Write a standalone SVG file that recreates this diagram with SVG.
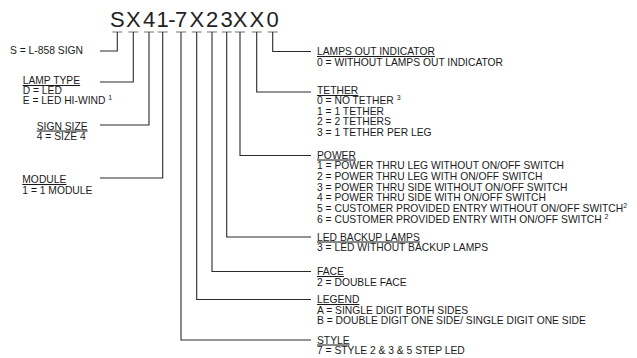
<svg xmlns="http://www.w3.org/2000/svg" width="637" height="358" viewBox="0 0 637 358">
<style>
text{font-family:"Liberation Sans",Arial,sans-serif;fill:#1a1a1a}
.t{font-size:10.3px}
.h{text-decoration:underline}
.sup{font-size:7px}
.title{font-size:22px;fill:#222}
.c{fill:none;stroke:#2a2a2a;stroke-width:1.1}
.d{stroke:#888;stroke-width:1.2}
</style>
<rect width="637" height="358" fill="#fff"/>
<g id="title">
<text class="title" y="27" x="110 126 142.9 156.6 168.3 174.9 189.4 205.9 220.6 232.7 249.4 266.6">SX41-7X23XX0</text>
<g class="d">
<line x1="112.3" y1="32" x2="122.3" y2="32"/>
<line x1="128.3" y1="32" x2="138.3" y2="32"/>
<line x1="144" y1="32" x2="154" y2="32"/>
<line x1="157.7" y1="32" x2="167.7" y2="32"/>
<line x1="176" y1="32" x2="186" y2="32"/>
<line x1="191.7" y1="32" x2="201.7" y2="32"/>
<line x1="207" y1="32" x2="217" y2="32"/>
<line x1="221.7" y1="32" x2="231.7" y2="32"/>
<line x1="235" y1="32" x2="245" y2="32"/>
<line x1="251.7" y1="32" x2="261.7" y2="32"/>
<line x1="267.7" y1="32" x2="277.7" y2="32"/>
</g>
</g>
<g id="connectors">
<path class="c" d="M117.3,32 V51 H100"/>
<path class="c" d="M133.3,32 V82 H100"/>
<path class="c" d="M149,32 V125 H100"/>
<path class="c" d="M162.7,32 V178 H100"/>
<path class="c" d="M272.7,32 V51.5 H311"/>
<path class="c" d="M256.7,32 V92 H311"/>
<path class="c" d="M240,32 V155.5 H311"/>
<path class="c" d="M226.7,32 V237 H311"/>
<path class="c" d="M212,32 V271.5 H311"/>
<path class="c" d="M196.7,32 V299.5 H311"/>
<path class="c" d="M181,32 V340 H311"/>
</g>
<g id="sign">
<text class="t" x="10" y="54">S = L-858 SIGN</text>
</g>
<g id="lamp-type">
<text class="t h" x="22.7" y="84">LAMP TYPE</text>
<text class="t" x="22.7" y="94">D = LED</text>
<text class="t" x="22.7" y="104">E = LED HI-WIND <tspan class="sup" dy="-4">1</tspan></text>
</g>
<g id="sign-size">
<text class="t h" x="36.7" y="129.5">SIGN SIZE</text>
<text class="t" x="36.7" y="139.5">4 = SIZE 4</text>
</g>
<g id="module">
<text class="t h" x="22.3" y="183">MODULE</text>
<text class="t" x="22.3" y="193.5">1 = 1 MODULE</text>
</g>
<g id="lamps-out">
<text class="t h" x="317" y="55">LAMPS OUT INDICATOR</text>
<text class="t" x="317" y="65.5">0 = WITHOUT LAMPS OUT INDICATOR</text>
</g>
<g id="tether">
<text class="t h" x="317" y="94">TETHER</text>
<text class="t" x="317" y="104">0 = NO TETHER <tspan class="sup" dy="-4">3</tspan></text>
<text class="t" x="317" y="114.5">1 = 1 TETHER</text>
<text class="t" x="317" y="125">2 = 2 TETHERS</text>
<text class="t" x="317" y="135.5">3 = 1 TETHER PER LEG</text>
</g>
<g id="power">
<text class="t h" x="317" y="158.5">POWER</text>
<text class="t" x="317" y="169">1 = POWER THRU LEG WITHOUT ON/OFF SWITCH</text>
<text class="t" x="317" y="179.8">2 = POWER THRU LEG WITH ON/OFF SWITCH</text>
<text class="t" x="317" y="190.6">3 = POWER THRU SIDE WITHOUT ON/OFF SWITCH</text>
<text class="t" x="317" y="201.4">4 = POWER THRU SIDE WITH ON/OFF SWITCH</text>
<text class="t" x="317" y="212.2">5 = CUSTOMER PROVIDED ENTRY WITHOUT ON/OFF SWITCH<tspan class="sup" dy="-4">2</tspan></text>
<text class="t" x="317" y="223">6 = CUSTOMER PROVIDED ENTRY WITH ON/OFF SWITCH <tspan class="sup" dy="-4">2</tspan></text>
</g>
<g id="led-backup">
<text class="t h" x="317" y="240.5">LED BACKUP LAMPS</text>
<text class="t" x="317" y="251">3 = LED WITHOUT BACKUP LAMPS</text>
</g>
<g id="face">
<text class="t h" x="317" y="275">FACE</text>
<text class="t" x="317" y="285.5">2 = DOUBLE FACE</text>
</g>
<g id="legend">
<text class="t h" x="317" y="303">LEGEND</text>
<text class="t" x="317" y="313.5">A = SINGLE DIGIT BOTH SIDES</text>
<text class="t" x="317" y="324">B = DOUBLE DIGIT ONE SIDE/ SINGLE DIGIT ONE SIDE</text>
</g>
<g id="style">
<text class="t h" x="317" y="343.5">STYLE</text>
<text class="t" x="317" y="354">7 = STYLE 2 &amp; 3 &amp; 5 STEP LED</text>
</g>
</svg>
